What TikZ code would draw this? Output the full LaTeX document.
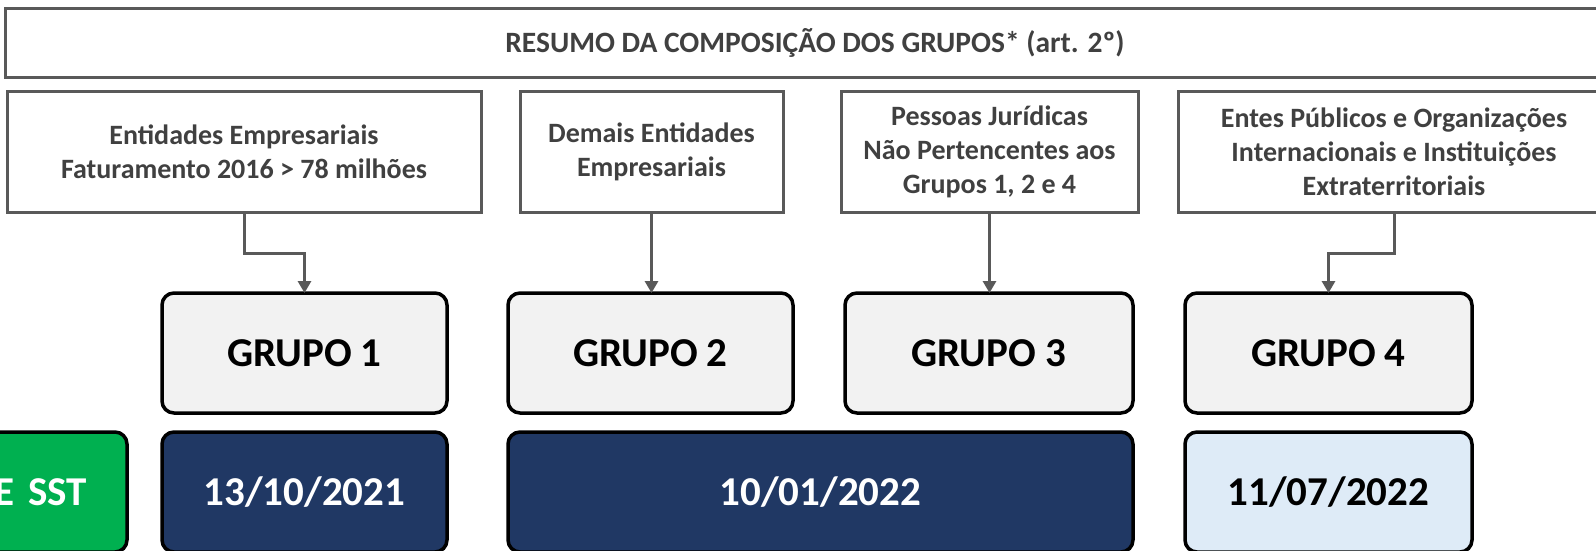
\documentclass[tikz,border=0pt]{standalone}
\usepackage{fontspec}
\setmainfont{Carlito}
\usetikzlibrary{arrows.meta}
\definecolor{edgegray}{HTML}{595959}
\definecolor{txtgray}{HTML}{404040}
\definecolor{boxfill}{HTML}{F2F2F2}
\definecolor{navy}{HTML}{203864}
\definecolor{lightblue}{HTML}{DEEBF7}
\definecolor{sstgreen}{HTML}{00B050}
\tikzset{
  descbox/.style={draw=edgegray, line width=3pt, fill=white, text=txtgray,
    font=\fontsize{28}{34}\selectfont\bfseries, align=center, inner sep=0pt, outer sep=0pt},
  grupobox/.style={draw=black, line width=3.5pt, fill=boxfill, rounded corners=12pt,
    font=\fontsize{41}{48}\selectfont\bfseries, inner sep=0pt, outer sep=0pt,
    minimum height=120pt},
  datebox/.style={draw=black, line width=3.5pt, rounded corners=12pt,
    font=\fontsize{41}{48}\selectfont\bfseries, inner sep=0pt, outer sep=0pt,
    minimum height=120pt},
  conn/.style={draw=edgegray, line width=3pt, -{Triangle[length=12pt,width=13pt]}}
}
\begin{document}
\begin{tikzpicture}[x=1pt,y=-1pt]
\useasboundingbox (0,0) rectangle (1596,550);
% header
\node[descbox, minimum width=1700pt, minimum height=69pt] (hdr) at (855,42.5) {};
\node[descbox, draw=none, fill=none, font=\fontsize{29.5}{34}\selectfont\bfseries] (hdrtext) at (815,42.5)
  {RESUMO DA COMPOSIÇÃO DOS GRUPOS* (art. 2º)};
% description boxes
\node[descbox, minimum width=474pt, minimum height=121pt] (b1) at (244,151.5)
  {Entidades Empresariais\\Faturamento 2016 > 78 milhões};
\node[descbox, minimum width=263pt, minimum height=121pt] (b2) at (651.5,151.5)
  {Demais Entidades\\Empresariais};
\node[descbox, minimum width=297pt, minimum height=121pt] (b3) at (989.5,151.5)
  {Pessoas Jurídicas\\Não Pertencentes aos\\Grupos 1, 2 e 4};
\node[descbox, minimum width=500pt, minimum height=121pt] (b4box) at (1428,151.5) {};
\node[descbox, draw=none, fill=none] (b4) at (1394,151.5)
  {Entes Públicos e Organizações\\Internacionais e Instituições\\Extraterritoriais};
% grupo boxes
\node[grupobox, minimum width=285pt] (g1) at (304.5,353) {GRUPO 1};
\node[grupobox, minimum width=285pt] (g2) at (650.5,353) {GRUPO 2};
\node[grupobox, minimum width=288pt] (g3) at (989,353) {GRUPO 3};
\node[grupobox, minimum width=287pt] (g4) at (1328.5,353) {GRUPO 4};
% date boxes
\node[datebox, fill=sstgreen, text=white, minimum width=287pt, text width=207pt, align=right] (d0) at (-16.5,492) {E SST};
\node[datebox, fill=navy, text=white, minimum width=285pt] (d1) at (304.5,492) {13/10/2021};
\node[datebox, fill=navy, text=white, minimum width=625pt] (d2) at (820.5,492) {10/01/2022};
\node[datebox, fill=lightblue, text=black, minimum width=287pt] (d3) at (1328.5,492) {11/07/2022};
% connectors
\draw[conn] (b1.south) -- ++(0,41) -| (g1.north);
\draw[conn] (b2.south) -- (b2.south |- g2.north);
\draw[conn] (b3.south) -- (b3.south |- g3.north);
\draw[conn] (b4.south |- b4box.south) -- ++(0,41) -| (g4.north);
\end{tikzpicture}
\end{document}
